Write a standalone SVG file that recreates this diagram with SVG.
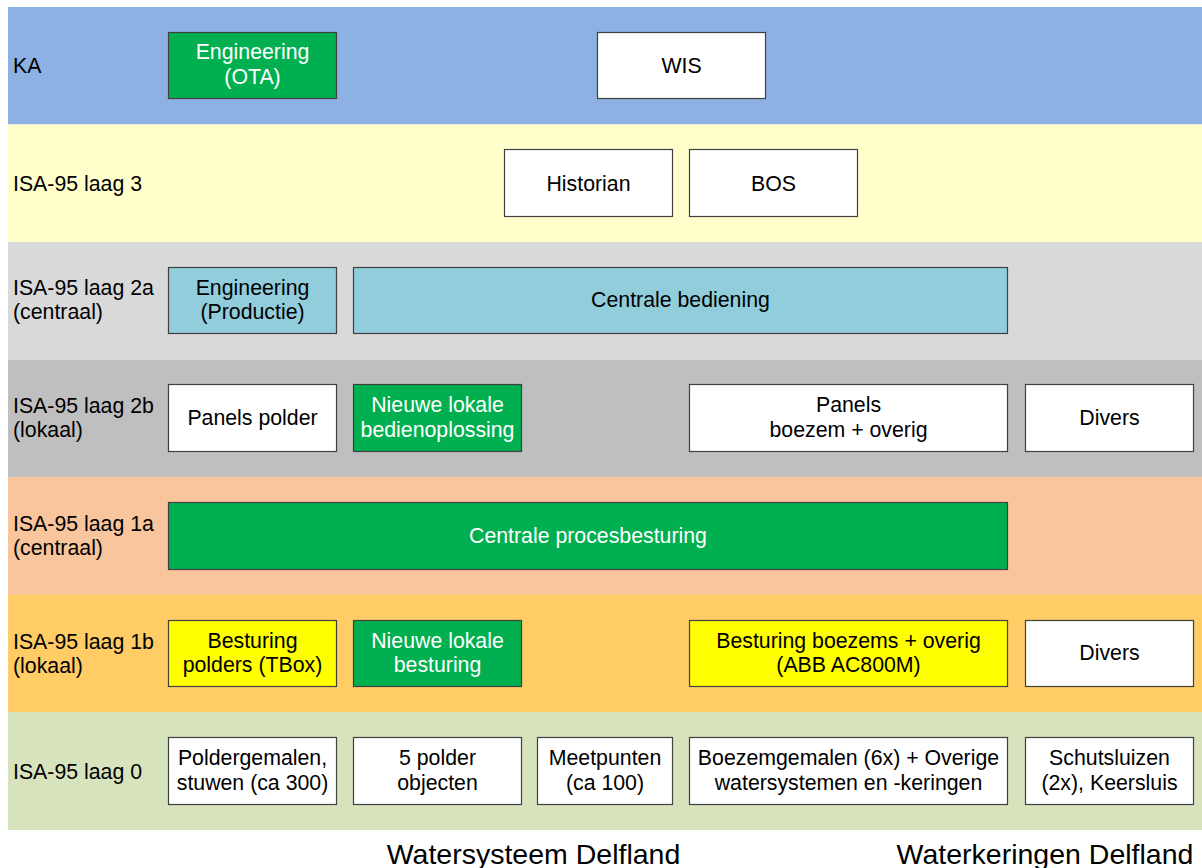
<svg xmlns="http://www.w3.org/2000/svg" width="1202" height="868" viewBox="0 0 1202 868">
<style>
text{font-family:"Liberation Sans",Arial,sans-serif;font-size:21.3px;fill:#000}
.c{text-anchor:middle}
.w{fill:#fff}
.box{stroke:#404040;stroke-width:1.2}
.wh{fill:#fff}
.gr{fill:#00B050}
.bl{fill:#92CDDC}
.ye{fill:#FFFF00}
.big{font-size:28.5px}
</style>
<rect width="1202" height="868" fill="#fff"/>
<g id="bands">
<rect x="8" y="7" width="1194" height="117.5" fill="#8DB1E2"/>
<rect x="8" y="124.5" width="1194" height="117.5" fill="#FFFFCC"/>
<rect x="8" y="242" width="1194" height="118" fill="#D9D9D9"/>
<rect x="8" y="360" width="1194" height="117" fill="#BFBFBF"/>
<rect x="8" y="477" width="1194" height="118" fill="#F8C59C"/>
<rect x="8" y="595" width="1194" height="117" fill="#FFCC66"/>
<rect x="8" y="712" width="1194" height="118" fill="#D7E3BD"/>
</g>
<g id="band-labels">
<text x="13" y="73">KA</text>
<text x="13" y="191">ISA-95 laag 3</text>
<text x="13" y="295">ISA-95 laag 2a</text>
<text x="13" y="319">(centraal)</text>
<text x="13" y="413">ISA-95 laag 2b</text>
<text x="13" y="437">(lokaal)</text>
<text x="13" y="531">ISA-95 laag 1a</text>
<text x="13" y="555">(centraal)</text>
<text x="13" y="649">ISA-95 laag 1b</text>
<text x="13" y="673">(lokaal)</text>
<text x="13" y="779">ISA-95 laag 0</text>
</g>
<g id="n-eng-ota"><rect class="box gr" x="168.5" y="32.5" width="168" height="66"/><text class="c w" x="252.5" y="59">Engineering</text><text class="c w" x="252.5" y="84">(OTA)</text></g>
<g id="n-wis"><rect class="box wh" x="597.5" y="32.5" width="168" height="66"/><text class="c" x="681.5" y="73">WIS</text></g>
<g id="n-historian"><rect class="box wh" x="504.5" y="149.5" width="168" height="67"/><text class="c" x="588.5" y="191">Historian</text></g>
<g id="n-bos"><rect class="box wh" x="689.5" y="149.5" width="168" height="67"/><text class="c" x="773.5" y="191">BOS</text></g>
<g id="n-eng-prod"><rect class="box bl" x="168.5" y="267.5" width="168" height="66"/><text class="c" x="252.5" y="295">Engineering</text><text class="c" x="252.5" y="319">(Productie)</text></g>
<g id="n-centrale-bediening"><rect class="box bl" x="353.5" y="267.5" width="654" height="66"/><text class="c" x="680.5" y="307">Centrale bediening</text></g>
<g id="n-panels-polder"><rect class="box wh" x="168.5" y="384.5" width="168" height="67"/><text class="c" x="252.5" y="425">Panels polder</text></g>
<g id="n-nieuwe-bedien"><rect class="box gr" x="353.5" y="384.5" width="168" height="67"/><text class="c w" x="437.5" y="412">Nieuwe lokale</text><text class="c w" x="437.5" y="437">bedienoplossing</text></g>
<g id="n-panels-boezem"><rect class="box wh" x="689.5" y="384.5" width="318" height="67"/><text class="c" x="848.5" y="412">Panels</text><text class="c" x="848.5" y="437">boezem + overig</text></g>
<g id="n-divers-2b"><rect class="box wh" x="1025.5" y="384.5" width="168" height="67"/><text class="c" x="1109.5" y="425">Divers</text></g>
<g id="n-centrale-proces"><rect class="box gr" x="168.5" y="502.5" width="839" height="67"/><text class="c w" x="588" y="543">Centrale procesbesturing</text></g>
<g id="n-besturing-polders"><rect class="box ye" x="168.5" y="620.5" width="168" height="66"/><text class="c" x="252.5" y="648">Besturing</text><text class="c" x="252.5" y="672">polders (TBox)</text></g>
<g id="n-nieuwe-besturing"><rect class="box gr" x="353.5" y="620.5" width="168" height="66"/><text class="c w" x="437.5" y="648">Nieuwe lokale</text><text class="c w" x="437.5" y="672">besturing</text></g>
<g id="n-besturing-boezems"><rect class="box ye" x="689.5" y="620.5" width="318" height="66"/><text class="c" x="848.5" y="648">Besturing boezems + overig</text><text class="c" x="848.5" y="672">(ABB AC800M)</text></g>
<g id="n-divers-1b"><rect class="box wh" x="1025.5" y="620.5" width="168" height="66"/><text class="c" x="1109.5" y="660">Divers</text></g>
<g id="n-poldergemalen"><rect class="box wh" x="168.5" y="737.5" width="168" height="67"/><text class="c" x="252.5" y="765">Poldergemalen,</text><text class="c" x="252.5" y="790">stuwen (ca 300)</text></g>
<g id="n-5polder"><rect class="box wh" x="353.5" y="737.5" width="168" height="67"/><text class="c" x="437.5" y="765">5 polder</text><text class="c" x="437.5" y="790">objecten</text></g>
<g id="n-meetpunten"><rect class="box wh" x="537.5" y="737.5" width="135" height="67"/><text class="c" x="605" y="765">Meetpunten</text><text class="c" x="605" y="790">(ca 100)</text></g>
<g id="n-boezemgemalen"><rect class="box wh" x="689.5" y="737.5" width="318" height="67"/><text class="c" x="848.5" y="765">Boezemgemalen (6x) + Overige</text><text class="c" x="848.5" y="790">watersystemen en -keringen</text></g>
<g id="n-schutsluizen"><rect class="box wh" x="1025.5" y="737.5" width="168" height="67"/><text class="c" x="1109.5" y="765">Schutsluizen</text><text class="c" x="1109.5" y="790">(2x), Keersluis</text></g>
<g id="connectors"></g>
<g id="footer">
<text class="c big" x="533.5" y="864">Watersysteem Delfland</text>
<text class="c big" x="1045" y="864">Waterkeringen Delfland</text>
</g>
</svg>
